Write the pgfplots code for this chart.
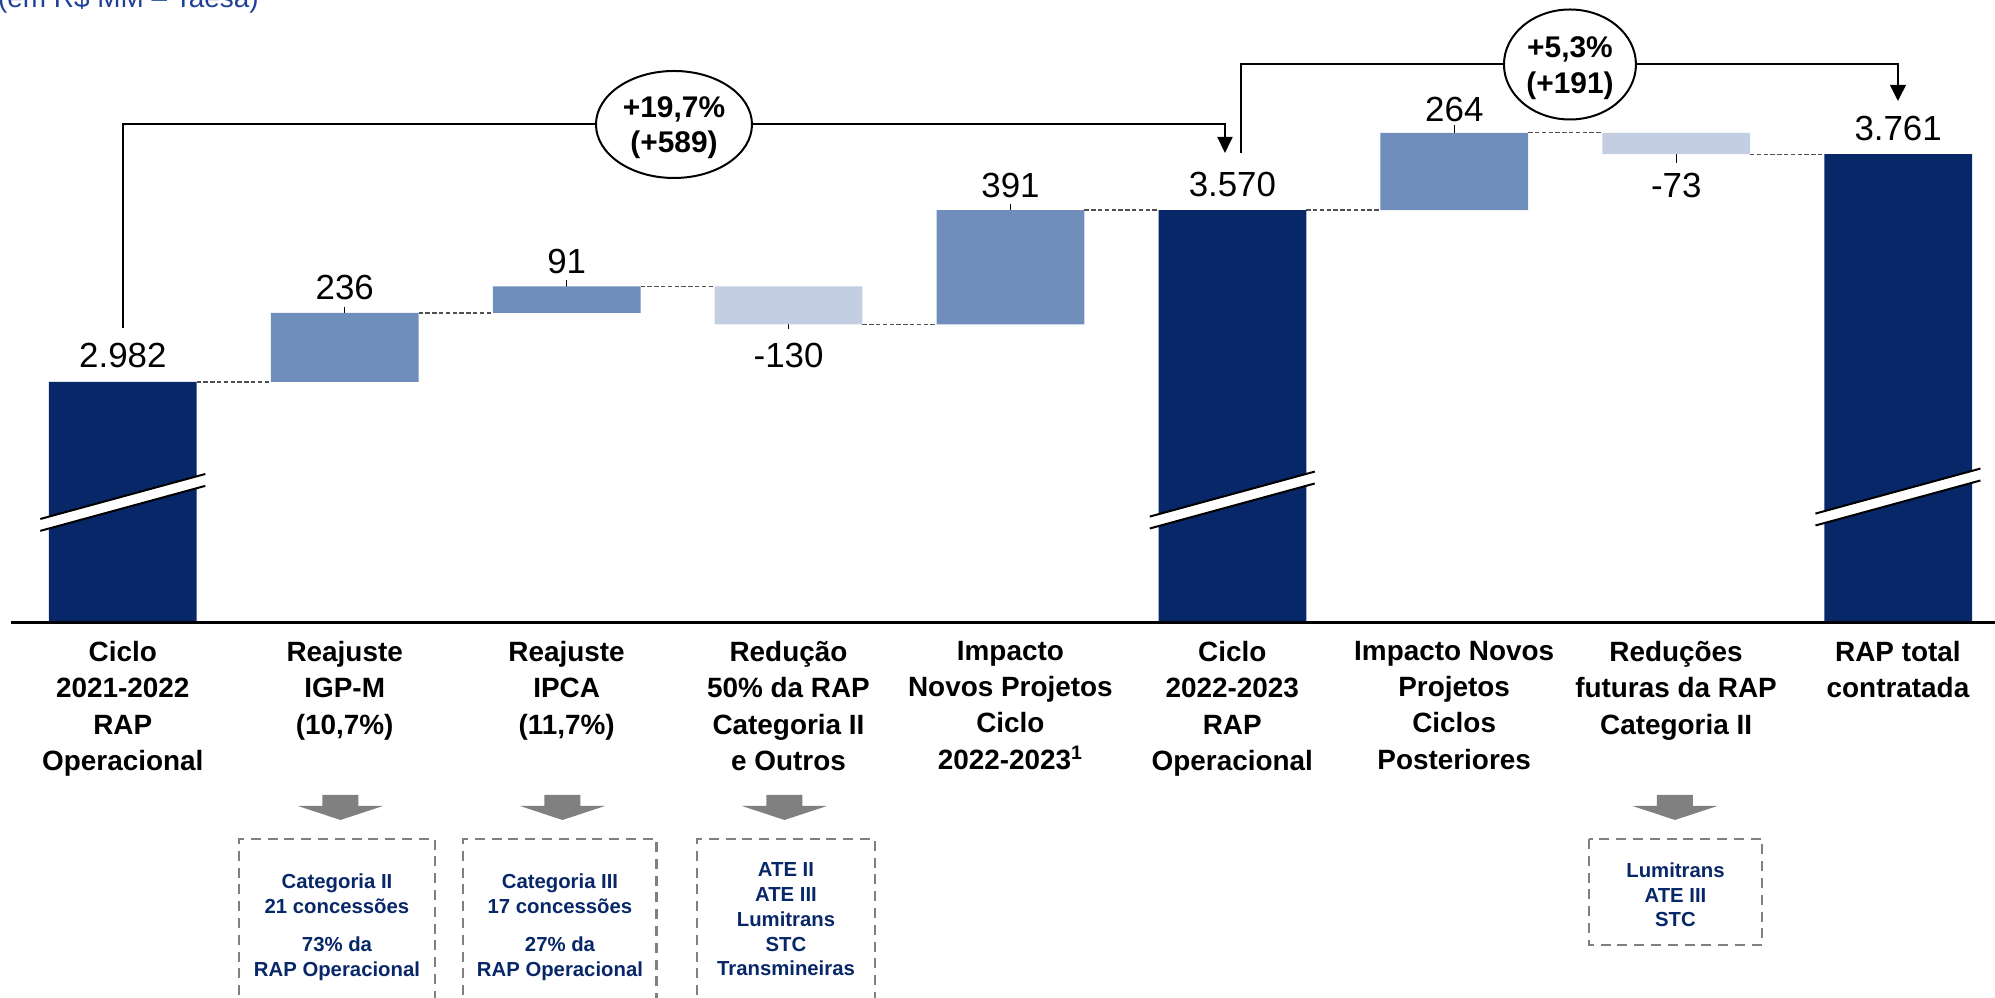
\documentclass[border=0pt]{standalone}
\usepackage{fontspec}
\setmainfont{Liberation Sans}
\usepackage{pgfplots}
\pgfplotsset{compat=1.18}
\usepackage{pgfplotstable}
\usetikzlibrary{shapes.geometric,arrows.meta}
\definecolor{navy}{RGB}{8,39,104}
\definecolor{midblue}{RGB}{111,142,187}
\definecolor{lightblue}{RGB}{195,206,226}
\definecolor{arrowgray}{RGB}{128,128,128}
\definecolor{conngray}{RGB}{80,80,80}
\definecolor{topblue}{RGB}{31,64,150}

% x: position, base: lower end of the bar, tot: total value, inc/dec: change
\pgfplotstableread{
x base tot inc dec
0 2165 2982 0 0
1 2982 0 236 0
2 3218 0 91 0
3 3179 0 0 130
4 3179 0 391 0
5 2165 3570 0 0
6 3570 0 264 0
7 3761 0 0 73
8 2165 3761 0 0
}\wf

\tikzset{
  vlabel/.style={anchor=base, inner sep=0, font=\fontsize{17.5}{20}\selectfont},
  leader/.style={black, line width=0.7bp},
  conn/.style={conngray, line width=0.6bp, dash pattern=on 2.2bp off 1.2bp},
  cat/.style={anchor=north, align=center, inner sep=0, font=\fontsize{14}{18.3}\selectfont\bfseries},
  boxtxt/.style={anchor=north, align=center, inner sep=0, text=navy, font=\fontsize{10.2}{12.5}\selectfont\bfseries},
  dbox/.style={draw=arrowgray, line width=1.25bp, dash pattern=on 5bp off 3.4bp},
  oval/.style={ellipse, draw=black, line width=1bp, fill=white, inner sep=0},
  ovtxt/.style={anchor=base, inner sep=0, font=\fontsize{15}{17}\selectfont\bfseries},
  brk/.style={black, line width=1bp},
}

\begin{document}
\begin{tikzpicture}
\begin{axis}[
  width=997.5bp, height=499bp, scale only axis,
  xmin=-0.5534, xmax=8.437, ymin=876, ymax=4288,
  hide axis, clip=false,
  ybar stacked, bar width=0.6656,
]
\addplot[fill=none, draw=none] table[x=x, y=base]{\wf};
\addplot[fill=navy, draw=none] table[x=x, y expr={max(\thisrow{tot}-\thisrow{base},0)}]{\wf};
\addplot[fill=midblue, draw=none] table[x=x, y=inc]{\wf};
\addplot[fill=lightblue, draw=none] table[x=x, y=dec]{\wf};

% connectors
\draw[conn] (axis cs:0.3328,2982) -- (axis cs:0.6672,2982);
\draw[conn] (axis cs:1.3328,3218) -- (axis cs:1.6672,3218);
\draw[conn] (axis cs:2.3328,3309) -- (axis cs:2.6672,3309);
\draw[conn] (axis cs:3.3328,3179) -- (axis cs:3.6672,3179);
\draw[conn] (axis cs:4.3328,3570) -- (axis cs:4.6672,3570);
\draw[conn] (axis cs:5.3328,3570) -- (axis cs:5.6672,3570);
\draw[conn] (axis cs:6.3328,3834) -- (axis cs:6.6672,3834);
\draw[conn] (axis cs:7.3328,3761) -- (axis cs:7.6672,3761);

% totals
\node[vlabel] at ([yshift=7bp]axis cs:0,2982) {2.982};
\node[vlabel] at ([yshift=7bp]axis cs:5,3570) {3.570};
\node[vlabel] at ([yshift=7bp]axis cs:8,3761) {3.761};
% increases
\draw[leader] ([yshift=3bp]axis cs:1,3218) -- ([yshift=-7.5bp]axis cs:1,3218);
\node[vlabel] at ([yshift=6.5bp]axis cs:1,3218) {236};
\draw[leader] ([yshift=3bp]axis cs:2,3309) -- ([yshift=-7bp]axis cs:2,3309);
\node[vlabel] at ([yshift=6.5bp]axis cs:2,3309) {91};
\draw[leader] ([yshift=3bp]axis cs:4,3570) -- ([yshift=-8bp]axis cs:4,3570);
\node[vlabel] at ([yshift=6.5bp]axis cs:4,3570) {391};
\draw[leader] ([yshift=4bp]axis cs:6,3834) -- ([yshift=-8bp]axis cs:6,3834);
\node[vlabel] at ([yshift=5.5bp]axis cs:6,3834) {264};
% decreases
\draw[leader] ([yshift=8bp]axis cs:3,3179) -- ([yshift=-2.5bp]axis cs:3,3179);
\node[vlabel] at ([yshift=-21.5bp]axis cs:3,3179) {-130};
\draw[leader] ([yshift=5bp]axis cs:7,3761) -- ([yshift=-4.5bp]axis cs:7,3761);
\node[vlabel] at ([yshift=-21.5bp]axis cs:7,3761) {-73};
\end{axis}

\begin{scope}[x=0.5bp, y=-0.5bp, shift={(0,499bp)}]
% partial header (cut by the top edge, as in the reference)
\node[anchor=base east, inner sep=0, text=topblue, font=\fontsize{14}{16}\selectfont] at (259,8) {(em R\$ MM – Taesa)};

% baseline
\draw[black, line width=1.5bp] (11,622.5) -- (1995,622.5);

% axis breaks
\foreach \cx/\cy in {122.8/502.4, 1232.3/500, 1898/497}{
  \fill[white] (\cx-82.5,\cy+16.6) -- (\cx+82.5,\cy-28.4) -- (\cx+82.5,\cy-16.5) -- (\cx-82.5,\cy+28.5) -- cycle;
  \draw[brk] (\cx-82.5,\cy+16.6) -- (\cx+82.5,\cy-28.4);
  \draw[brk] (\cx-82.5,\cy+28.5) -- (\cx+82.5,\cy-16.5);
}

% brackets
\draw[black, line width=1bp, -{Triangle[width=7.5bp,length=8bp]}] (122.8,328) -- (122.8,124.5) -- (1225,124.5) -- (1225,153);
\draw[black, line width=1bp, -{Triangle[width=7.8bp,length=8bp]}] (1240.8,153) -- (1240.8,64) -- (1898,64) -- (1898,101);
\node[oval, minimum width=78bp, minimum height=53.5bp] at (674,124.5) {};
\node[ovtxt] at (674,117.3) {+19,7\%};
\node[ovtxt] at (674,153) {(+589)};
\node[oval, minimum width=66bp, minimum height=55bp] at (1570,64.5) {};
\node[ovtxt] at (1570,58) {+5,3\%};
\node[ovtxt] at (1570,94) {(+191)};

% category labels
\node[cat] at (122.8,640.5) {Ciclo\\2021-2022\\RAP\\Operacional};
\node[cat] at (344.7,640.5) {Reajuste\\IGP-M\\(10,7\%)};
\node[cat] at (566.6,640.5) {Reajuste\\IPCA\\(11,7\%)};
\node[cat] at (788.5,640.5) {Redução\\50\% da RAP\\Categoria II\\e Outros};
\node[cat] at (1010.4,640.5) {Impacto\\Novos Projetos\\Ciclo\\2022-2023\textsuperscript{1}};
\node[cat] at (1232.3,640.5) {Ciclo\\2022-2023\\RAP\\Operacional};
\node[cat] at (1454.2,640.5) {Impacto Novos\\Projetos\\Ciclos\\Posteriores};
\node[cat] at (1676.1,640.5) {Reduções\\futuras da RAP\\Categoria II};
\node[cat] at (1898,640.5) {RAP total\\contratada};

% gray block arrows
\foreach \cx in {340.5, 562.5, 784.5, 1675}{
  \fill[arrowgray] (\cx-18,795) -- (\cx+18,795) -- (\cx+18,806) -- (\cx+42.5,806) -- (\cx,820) -- (\cx-42.5,806) -- (\cx-18,806) -- cycle;
}

% dashed boxes
\draw[dbox] (239,1012) -- (239,839) -- (435,839) -- (435,1012);
\draw[dbox] (463,1012) -- (463,839) -- (656.5,839) -- (656.5,1012);
\draw[dbox] (697,1012) -- (697,839) -- (875,839) -- (875,1012);
\draw[dbox] (1589,839) rectangle (1762,945);

\node[boxtxt] at (337,873.5) {Categoria II\\21 concessões\\[6.7bp]73\% da\\RAP Operacional};
\node[boxtxt] at (560,873.5) {Categoria III\\17 concessões\\[6.7bp]27\% da\\RAP Operacional};
\node[boxtxt] at (786,862) {ATE II\\ATE III\\Lumitrans\\STC\\Transmineiras};
\node[boxtxt] at (1675.5,862) {Lumitrans\\ATE III\\STC};
\end{scope}

\pgfresetboundingbox
\useasboundingbox (0,0) rectangle (997.5bp,499bp);
\end{tikzpicture}
\end{document}
